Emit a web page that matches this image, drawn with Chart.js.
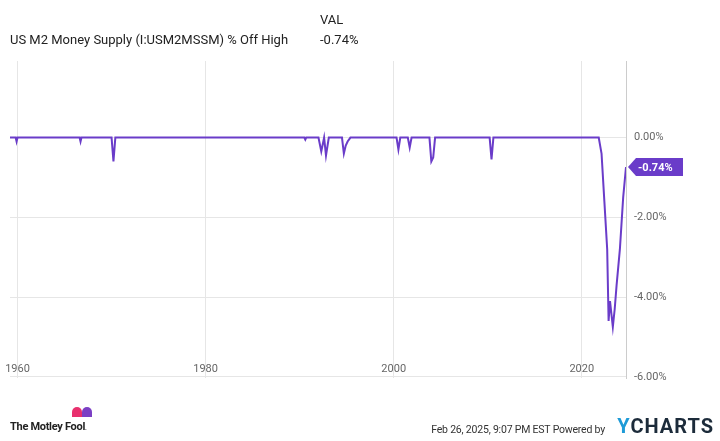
<!DOCTYPE html>
<html>
<head>
<script src="https://cdn.jsdelivr.net/npm/chart.js@4"></script>
<style>
body { margin: 0; background: #fff; font-family: Roboto, sans-serif; }
#wrap { position: relative; width: 720px; height: 441px; }
canvas { position: absolute; left: 0; top: 0; }
.t { position: absolute; color: #222; font-size: 13px; white-space: nowrap; }
</style>
</head>
<body>
<div id="wrap">
  <canvas id="chart" width="720" height="441"></canvas>
  <div class="t" style="left:320px;top:12px;">VAL</div>
  <div class="t" style="left:10px;top:32px;">US M2 Money Supply (I:USM2MSSM) % Off High</div>
  <div class="t" style="left:320px;top:32px;">-0.74%</div>
  <div class="t" style="left:10px;top:420px;font-weight:bold;font-size:11px;letter-spacing:-0.3px;">The Motley Fool<span style="font-size:6px">.</span></div>
  <div style="position:absolute;left:72px;top:407px;width:10px;height:10px;background:#e8306e;border-radius:6px 6px 0 0;"></div>
  <div style="position:absolute;left:82px;top:407px;width:10px;height:10px;background:#7b3fc4;border-radius:6px 6px 0 0;"></div>
  <div class="t" style="right:115px;top:423px;font-size:10.5px;color:#333;letter-spacing:-0.2px;">Feb 26, 2025, 9:07 PM EST Powered by</div>
  <div class="t" style="right:6px;top:414px;font-size:20px;font-weight:bold;color:#1c2b3a;letter-spacing:1px;"><span style="color:#1e9bd7">Y</span>CHARTS</div>
</div>
<script>
// years (decimal) and % off high
const years = [1959.2, 1959.8, 1959.9, 1960.0, 1966.6, 1966.7, 1966.8, 1970.0, 1970.2, 1970.4,
  1990.5, 1990.6, 1990.7, 1992.0, 1992.3, 1992.6, 1992.8, 1993.1, 1993.4, 1994.5, 1994.7, 1994.9, 1995.1, 1995.4,
  2000.3, 2000.5, 2000.7, 2001.5, 2001.7, 2001.9, 2003.8, 2004.0, 2004.2, 2004.4,
  2010.2, 2010.4, 2010.6, 2021.8, 2022.1, 2022.4, 2022.7, 2022.85, 2023.0, 2023.3, 2023.5, 2023.7, 2024.05, 2024.4, 2024.7];
const offHigh = [0, 0, -0.1, 0, 0, -0.1, 0, 0, -0.6, 0,
  0, -0.05, 0, 0, -0.35, 0, -0.45, 0, 0, 0, -0.4, -0.2, -0.1, 0,
  0, -0.3, 0, 0, -0.25, 0, 0, -0.6, -0.5, 0,
  0, -0.55, 0, 0, -0.4, -1.6, -2.8, -4.6, -4.1, -4.75, -4.3, -3.7, -2.8, -1.5, -0.74];
const xTicks = [1960, 1980, 2000, 2020];
const yTicks = [0, -2, -4, -6];
const lastLabel = "-0.74%";
const purple = "#6a3cc9";

const overlay = {
  id: "overlay",
  afterDraw(chart) {
    const ctx = chart.ctx, x = chart.scales.x, y = chart.scales.y, a = chart.chartArea;
    ctx.save();
    ctx.font = "11px Roboto";
    ctx.fillStyle = "#666";
    ctx.textAlign = "center";
    ctx.textBaseline = "middle";
    xTicks.forEach(t => ctx.fillText(String(t), x.getPixelForValue(t), 369));
    // last value tag
    const py = y.getPixelForValue(offHigh[offHigh.length - 1]);
    const px = a.right + 2;
    ctx.fillStyle = purple;
    ctx.beginPath();
    ctx.moveTo(px, py);
    ctx.lineTo(px + 8, py - 9);
    ctx.lineTo(px + 55, py - 9);
    ctx.lineTo(px + 55, py + 9);
    ctx.lineTo(px + 8, py + 9);
    ctx.closePath();
    ctx.fill();
    ctx.fillStyle = "#fff";
    ctx.font = "bold 11px Roboto";
    ctx.textAlign = "left";
    ctx.fillText(lastLabel, px + 10, py + 1);
    ctx.restore();
  }
};

new Chart(document.getElementById("chart"), {
  type: "line",
  data: {
    datasets: [{
      data: years.map((v, i) => ({ x: v, y: offHigh[i] })),
      borderColor: purple,
      borderWidth: 2,
      pointRadius: 0,
      tension: 0,
      fill: false
    }]
  },
  options: {
    responsive: false,
    animation: false,
    layout: { padding: { left: 10, top: 61, right: 0, bottom: 41 } },
    plugins: { legend: { display: false }, tooltip: { enabled: false } },
    scales: {
      x: {
        type: "linear",
        min: 1959.2,
        max: 2024.7,
        afterBuildTicks: s => { s.ticks = xTicks.map(v => ({ value: v })); },
        afterFit: s => { s.height = 22; },
        ticks: { display: false },
        grid: { color: "#e6e6e6", drawTicks: false },
        border: { display: false }
      },
      y: {
        position: "right",
        min: -6.03,
        max: 1.92,
        afterBuildTicks: s => { s.ticks = yTicks.map(v => ({ value: v })); },
        afterFit: s => { s.width = 94; },
        ticks: {
          color: "#666",
          font: { family: "Roboto", size: 11 },
          padding: 8,
          callback: v => v.toFixed(2) + "%"
        },
        grid: { color: "#e6e6e6", drawTicks: false },
        border: { display: true, color: "#ccc" }
      }
    }
  },
  plugins: [overlay]
});
</script>
</body>
</html>
